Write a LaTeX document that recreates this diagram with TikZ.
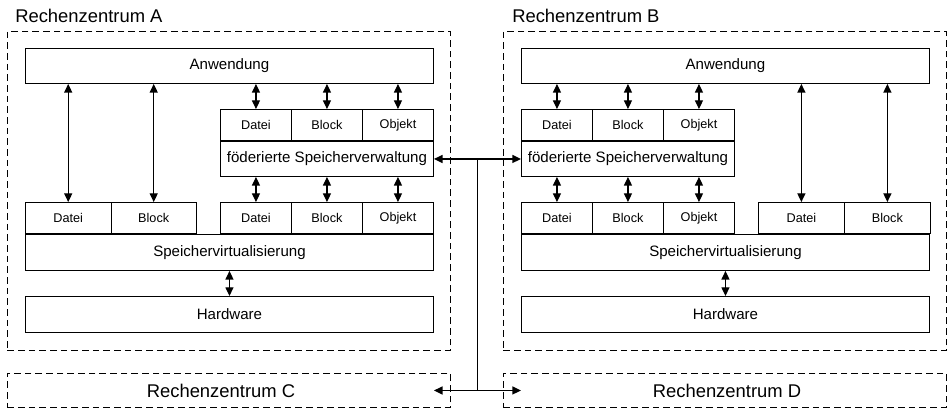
\documentclass[tikz,border=0pt]{standalone}
\usepackage{fontspec}
\setmainfont{Liberation Sans}
\usetikzlibrary{arrows.meta,positioning,calc}
\newcommand{\pxu}{0.75pt}
\tikzset{
  layer/.style={draw,line width=0.7pt,inner sep=0pt,minimum width=408*\pxu,minimum height=35*\pxu,
    font=\fontsize{11.3}{13}\selectfont},
  fedbox/.style={layer,minimum width=213*\pxu},
  cell/.style={draw,line width=0.7pt,inner sep=0pt,minimum width=71*\pxu,minimum height=31*\pxu,
    font=\fontsize{9.5}{11}\selectfont},
  widecell/.style={cell,minimum width=86*\pxu},
  zone/.style={draw,dash pattern=on 5pt off 3pt,line width=0.7pt,inner sep=0pt,
    minimum width=443*\pxu},
  zonelabel/.style={inner sep=0pt,font=\fontsize{13.8}{16}\selectfont},
  link/.style={{Triangle[length=6.5pt,width=6pt]}-{Triangle[length=6.5pt,width=6pt]},line width=0.9pt},
}
\begin{document}
\begin{tikzpicture}[x=\pxu,y=\pxu]
  \useasboundingbox (0,0) rectangle (947,-409);

  % Rechenzentrum A
  \node[zone,minimum height=319*\pxu,anchor=north west] (zoneA) at (7,-31) {};
  \node[zonelabel,anchor=base west] (titleA) at ($(zoneA.north west)+(8,8)$) {Rechenzentrum A};
  \node[layer,anchor=north west] (appA) at (25,-48) {Anwendung};
  \node[fedbox,anchor=north west] (fedA) at (220,-141) {föderierte Speicherverwaltung};
  \node[layer,anchor=north west,minimum height=36*\pxu] (virtA) at (25,-234) {Speichervirtualisierung};
  \node[layer,anchor=north west,minimum height=36*\pxu] (hwA) at (25,-296) {Hardware};
  \coordinate (baseA) at (virtA.north west -| fedA.west);
  \foreach \t [count=\i] in {Datei,Block,Objekt} {
    \node[cell,anchor=south west] (fedA\i) at ($(fedA.north west)+({71*(\i-1)},0)$) {\t};
    \node[cell,anchor=south west] (lowA\i) at ($(baseA)+({71*(\i-1)},0)$) {\t};
    \draw[link] (fedA\i.north |- appA.south) -- (fedA\i.north);
    \draw[link] (lowA\i.north |- fedA.south) -- (lowA\i.north);
  }
  \foreach \t [count=\i] in {Datei,Block} {
    \node[widecell,anchor=south west,minimum width=85.5*\pxu] (sideA\i) at ($(virtA.north west)+({85.5*(\i-1)},0)$) {\t};
    \draw[link] (sideA\i.north |- appA.south) -- (sideA\i.north);
  }
  \draw[link] (virtA) -- (hwA);

  % Rechenzentrum B
  \node[zone,minimum height=319*\pxu,anchor=north west] (zoneB) at (503,-31) {};
  \node[zonelabel,anchor=base west] (titleB) at ($(zoneB.north west)+(9,8)$) {Rechenzentrum B};
  \node[layer,anchor=north west] (appB) at (521,-48) {Anwendung};
  \node[fedbox,anchor=north west] (fedB) at (521,-141) {föderierte Speicherverwaltung};
  \node[layer,anchor=north west,minimum height=36*\pxu] (virtB) at (521,-234) {Speichervirtualisierung};
  \node[layer,anchor=north west,minimum height=36*\pxu] (hwB) at (521,-296) {Hardware};
  \foreach \t [count=\i] in {Datei,Block,Objekt} {
    \node[cell,anchor=south west] (fedB\i) at ($(fedB.north west)+({71*(\i-1)},0)$) {\t};
    \node[cell,anchor=south west] (lowB\i) at ($(virtB.north west)+({71*(\i-1)},0)$) {\t};
    \draw[link] (fedB\i.north |- appB.south) -- (fedB\i.north);
    \draw[link] (lowB\i.north |- fedB.south) -- (lowB\i.north);
  }
  \foreach \t [count=\i] in {Datei,Block} {
    \node[widecell,anchor=south west] (sideB\i) at ($(virtB.north east)+({86*(\i-3)},0)$) {\t};
    \draw[link] (sideB\i.north |- appB.south) -- (sideB\i.north);
  }
  \draw[link] (virtB) -- (hwB);

  % Rechenzentrum C und D
  \node[zone,minimum height=34*\pxu,anchor=north west] (zoneC) at (7,-373) {};
  \node[zonelabel] (labelC) at ($(zoneC.center)+(-8,0)$) {Rechenzentrum C};
  \node[zone,minimum height=34*\pxu,anchor=north west] (zoneD) at (503,-373) {};
  \node[zonelabel] (labelD) at ($(zoneD.center)+(2,0)$) {Rechenzentrum D};

  % Verbindung
  \coordinate (hub) at ($(fedA.east)!0.5!(fedB.west)$);
  \coordinate (endC) at (fedA.east |- zoneC.east);
  \coordinate (endD) at (fedB.west |- zoneD.west);
  \draw[link,line width=1.1pt] (fedA.east) -- (fedB.west);
  \draw[link,line width=1.1pt] (endC) -- (endD);
  \draw[line width=1.1pt] (hub) -- (hub |- endC);
\end{tikzpicture}
\end{document}
